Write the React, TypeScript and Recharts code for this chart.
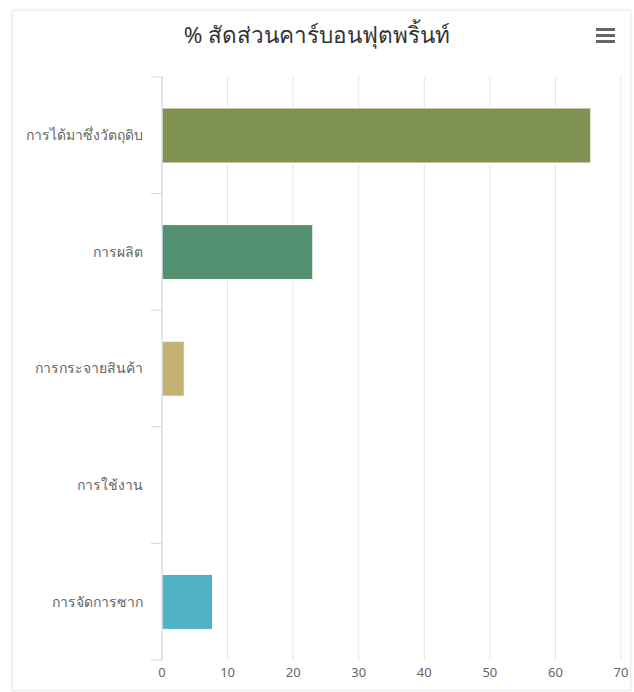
import { BarChart, Bar, XAxis, YAxis, CartesianGrid, Cell } from 'recharts'

const categories = ['การได้มาซึ่งวัตถุดิบ', 'การผลิต', 'การกระจายสินค้า', 'การใช้งาน', 'การจัดการซาก']
const shares = [65.4, 23.0, 3.4, 0, 7.7]
const xTicks = [0, 10, 20, 30, 40, 50, 60, 70]

const barColors = ['#80924f', '#52906f', '#c3b273', '#7cb5ec', '#4fb2c6']
const font = '"Noto Sans", "DejaVu Sans", sans-serif'
const TICK_SIZE = 10
const TICK_MARGIN = 9

const data = categories.map((name, i) => ({ name, value: shares[i] }))

// category label plus highcharts-style tick marks on the band edges
function CategoryTick(props: any) {
  const { x, y, payload, index, visibleTicksCount } = props
  const axisX = x + TICK_SIZE + TICK_MARGIN
  const half = payload.offset || 0
  return (
    <g>
      <line x1={axisX - 11} x2={axisX} y1={y - half} y2={y - half} stroke="#ccd6eb" />
      {index === visibleTicksCount - 1 && (
        <line x1={axisX - 11} x2={axisX} y1={y + half} y2={y + half} stroke="#ccd6eb" />
      )}
      <text x={x} y={y} dy="0.35em" textAnchor="end" fontSize={14} fill="#666" fontFamily={font}>
        {payload.value}
      </text>
    </g>
  )
}

export default function App() {
  return (
    <div style={{ position: 'absolute', left: 0, top: 0, width: 634, height: 692, background: '#fff', fontFamily: font }}>
      <div
        style={{
          position: 'absolute',
          left: 12,
          top: 10,
          width: 617,
          height: 679,
          border: '1px solid #ebebeb',
          boxShadow: '0 0 3px rgba(0,0,0,0.08)',
        }}
      />
      <div
        style={{
          position: 'absolute',
          left: 0,
          width: 634,
          top: 17,
          textAlign: 'center',
          fontSize: 22.5,
          color: '#333',
        }}
      >
        % สัดส่วนคาร์บอนฟุตพริ้นท์
      </div>
      {[28, 34, 40].map((t) => (
        <div key={t} style={{ position: 'absolute', left: 596, top: t, width: 19, height: 3, background: '#666' }} />
      ))}
      <div style={{ position: 'absolute', left: 0, top: 0 }}>
        <BarChart
          width={634}
          height={692}
          data={data}
          layout="vertical"
          margin={{ top: 77, right: 13, bottom: 2, left: 12 }}
        >
          <CartesianGrid horizontal={false} stroke="#e6e6e6" />
          <XAxis
            type="number"
            domain={[0, 70]}
            ticks={xTicks}
            axisLine={false}
            tickLine={false}
            height={30}
            tick={{ fontSize: 13, fill: '#666', fontFamily: font }}
          />
          <YAxis
            type="category"
            dataKey="name"
            width={150}
            axisLine={{ stroke: '#ccd6eb' }}
            tickLine={false}
            tickSize={TICK_SIZE}
            tickMargin={TICK_MARGIN}
            tick={<CategoryTick />}
          />
          <Bar dataKey="value" barSize={55} stroke="#fff" strokeWidth={1} isAnimationActive={false}>
            {data.map((d, i) => (
              <Cell key={d.name} fill={barColors[i]} />
            ))}
          </Bar>
        </BarChart>
      </div>
    </div>
  )
}
